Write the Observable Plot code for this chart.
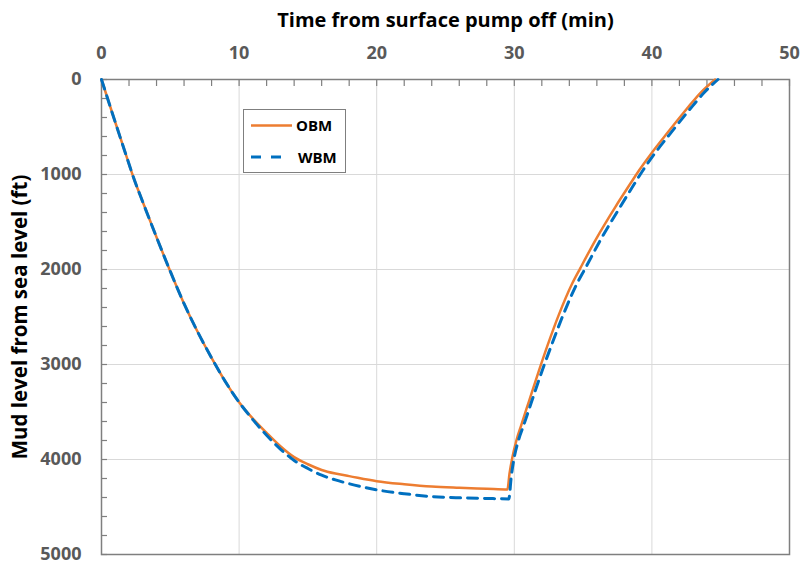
<!DOCTYPE html>
<html>
<head>
<meta charset="utf-8">
<script src="https://cdn.jsdelivr.net/npm/d3@7"></script>
<script src="https://cdn.jsdelivr.net/npm/@observablehq/plot@0.6"></script>
<style>
  body { margin: 0; background: #fff; }
  #wrap { position: relative; width: 804px; height: 565px; }
  #legend { position: absolute; left: 243px; top: 109px; }
</style>
</head>
<body>
<div id="wrap"></div>
<script>
// ---- data ----
const seriesNames = ["OBM", "WBM"];
const xTitle = "Time from surface pump off (min)";
const yTitle = "Mud level from sea level (ft)";
const xTickValues = [0, 10, 20, 30, 40, 50];
const yTickValues = [0, 1000, 2000, 3000, 4000, 5000];
const xMinorValues = d3.range(0, 51, 2);
const yMinorValues = d3.range(0, 5001, 200);

const timeOBM  = [0, 1, 2, 2.25, 3, 4, 5, 6, 7, 8, 9, 10, 11, 12, 13, 14, 15, 16, 17, 18, 20, 22, 24, 26, 28, 29.5,
                  29.65, 29.85, 30.15, 30.5, 31.06, 31.78, 32.39, 33.24, 34.2, 34.8, 35.9, 37.35, 38.44, 39.05, 40.0, 41.0, 42.3, 42.7, 43.5, 44.6];
const depthOBM = [0, 450, 890, 1000, 1290, 1660, 2020, 2360, 2660, 2930, 3180, 3397, 3570, 3720, 3860, 3975, 4050, 4110, 4148, 4175, 4228, 4260, 4285, 4298, 4308, 4316,
                  4150, 3985, 3800, 3640, 3390, 3070, 2810, 2475, 2150, 1985, 1690, 1340, 1095, 960, 770, 585, 350, 280, 145, 0];

const timeWBM  = [0, 1, 2, 2.25, 3, 4, 5, 6, 7, 8, 9, 10, 11, 12, 13, 14, 15, 16, 17, 18, 20, 22, 24, 26, 28, 29.6,
                  29.78, 30.0, 30.3, 30.68, 31.26, 32.01, 32.67, 33.56, 34.55, 35.17, 36.26, 37.7, 38.74, 39.33, 40.25, 41.25, 42.55, 42.95, 43.75, 44.8];
const depthWBM = [0, 450, 890, 1000, 1290, 1660, 2020, 2360, 2660, 2930, 3180, 3397, 3580, 3745, 3890, 4010, 4095, 4165, 4215, 4255, 4319, 4360, 4390, 4403, 4410, 4415,
                  4180, 3975, 3800, 3640, 3390, 3070, 2810, 2475, 2150, 1985, 1690, 1340, 1095, 960, 770, 585, 350, 280, 145, 0];

const colors = ["#ED7D31", "#0070C0"];

const obm = timeOBM.map((t, i) => ({t, d: depthOBM[i]}));
const wbm = timeWBM.map((t, i) => ({t, d: depthWBM[i]}));

const font = "'Open Sans', 'DejaVu Sans', sans-serif";

const chart = Plot.plot({
  width: 804,
  height: 565,
  marginLeft: 101,
  marginRight: 15,
  marginTop: 79,
  marginBottom: 11,
  x: {domain: [0, 50]},
  y: {domain: [0, 5000], reverse: true},
  style: {fontFamily: font, background: "white", overflow: "visible"},
  marks: [
    Plot.gridX(xTickValues.slice(1, -1), {stroke: "#d9d9d9", strokeOpacity: 1, strokeWidth: 1}),
    Plot.gridY(yTickValues.slice(1, -1), {stroke: "#d9d9d9", strokeOpacity: 1, strokeWidth: 1}),
    Plot.axisX(xMinorValues, {anchor: "top", tickSize: -6, tickFormat: () => "", stroke: "#7f7f7f", strokeWidth: 1.2, label: null}),
    Plot.axisY(yMinorValues, {anchor: "left", tickSize: -6, tickFormat: () => "", stroke: "#7f7f7f", strokeWidth: 1.2, label: null}),
    Plot.axisX(xTickValues, {anchor: "top", tickSize: 0, tickPadding: 21, tickFormat: d => String(d), fontSize: 18, fontWeight: 700, color: "#595959", label: null}),
    Plot.axisY(yTickValues, {anchor: "left", tickSize: 0, tickPadding: 20, tickFormat: d => String(d), fontSize: 18, fontWeight: 700, color: "#595959", label: null}),
    Plot.frame({stroke: "#7f7f7f", strokeWidth: 1.5}),
    Plot.line(obm, {x: "t", y: "d", stroke: colors[0], strokeWidth: 2.5, curve: "monotone-x"}),
    Plot.line(wbm, {x: "t", y: "d", stroke: colors[1], strokeWidth: 3, strokeDasharray: "10,7", curve: "monotone-x"}),
    Plot.text([xTitle], {text: d => d, frameAnchor: "top", dy: -59, textAnchor: "middle", lineAnchor: "middle", fontSize: 20, fontWeight: 700, fill: "#000"}),
    Plot.text([yTitle], {text: d => d, frameAnchor: "left", dx: -81, rotate: -90, textAnchor: "middle", lineAnchor: "middle", fontSize: 20.5, fontWeight: 700, fill: "#000"})
  ]
});

const wrap = document.getElementById("wrap");
wrap.appendChild(chart);

// legend (inside plot area, as in the reference)
const ns = "http://www.w3.org/2000/svg";
const leg = document.createElementNS(ns, "svg");
leg.setAttribute("id", "legend");
leg.setAttribute("width", 104);
leg.setAttribute("height", 66);
leg.innerHTML = `
  <rect x="0.5" y="0.5" width="102" height="63" fill="#fff" stroke="#7f7f7f" stroke-width="1"/>
  <line x1="8" y1="16.5" x2="49" y2="16.5" stroke="${colors[0]}" stroke-width="2.5"/>
  <text x="53" y="22" font-family="${font.replace(/'/g, "")}" font-size="15" font-weight="700" fill="#000">${seriesNames[0]}</text>
  <line x1="8" y1="48" x2="41" y2="48" stroke="${colors[1]}" stroke-width="3" stroke-dasharray="10,10"/>
  <text x="55" y="53.5" font-family="${font.replace(/'/g, "")}" font-size="15" font-weight="700" fill="#000">${seriesNames[1]}</text>
`;
wrap.appendChild(leg);
</script>
</body>
</html>
